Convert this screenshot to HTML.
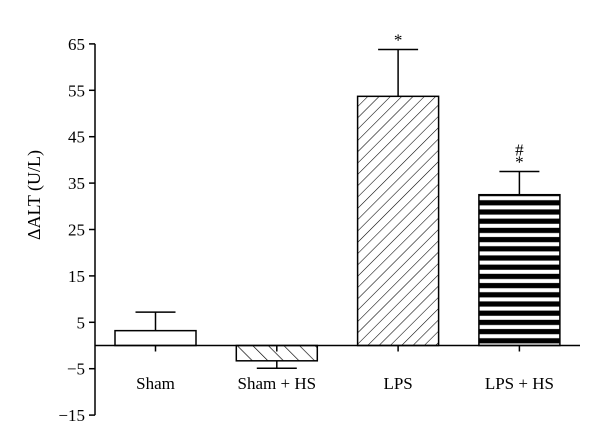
<!DOCTYPE html>
<html><head><meta charset="utf-8"><style>
body{margin:0;background:#fff}
svg{display:block;font-family:"Liberation Serif",serif}
</style></head><body>
<svg width="600" height="448" viewBox="0 0 600 448">
<defs>
<pattern id="pBack" patternUnits="userSpaceOnUse" width="11" height="11" patternTransform="rotate(-45)"><rect width="11" height="11" fill="#fff"/><line x1="0" y1="0" x2="0" y2="11" stroke="#000" stroke-width="1.3"/></pattern>
<pattern id="pFwd" patternUnits="userSpaceOnUse" width="8" height="8" patternTransform="rotate(45)"><rect width="8" height="8" fill="#fff"/><line x1="0" y1="0" x2="0" y2="8" stroke="#000" stroke-width="1.1"/></pattern>
<pattern id="pHoriz" patternUnits="userSpaceOnUse" width="9" height="9.2" y="194"><rect width="9" height="9.2" fill="#000"/><rect y="2.2" width="9" height="4" fill="#fff"/></pattern>
</defs>
<g id="plot"></g>
</svg>
<script>
const categories=["Sham","Sham + HS","LPS","LPS + HS"];
const values=[3.2,-3.3,53.7,32.5];
const errors=[4,1.6,10.1,5];
const annotations=["","","*","#\n*"];
const ticks=[-15,-5,5,15,25,35,45,55,65];
const fills=["#fff","url(#pBack)","url(#pFwd)","url(#pHoriz)"];
const NS="http://www.w3.org/2000/svg";
const g=document.getElementById('plot');
const y=v=>345.5-v*4.64;
const xc=i=>155.5+i*121.3;
const bw=81;
function el(t,a,p){const e=document.createElementNS(NS,t);for(const k in a)e.setAttribute(k,a[k]);(p||g).appendChild(e);return e;}
const ax=el('line',{x1:95,y1:y(65),x2:95,y2:y(-15),stroke:'#000','stroke-width':1.5});


ticks.forEach(t=>{
 const l=el('line',{x1:89,y1:y(t),x2:95,y2:y(t),stroke:'#000','stroke-width':1.5});
 
 
 const tx=el('text',{x:85,y:y(t)+6,'text-anchor':'end','font-size':17});
 tx.textContent=t<0?'\u2212'+Math.abs(t):String(t);
 
 
});
const yt=el('text',{x:0,y:0,'text-anchor':'middle','font-size':18,transform:'translate(40,195) rotate(-90)'});
yt.textContent='\u0394ALT (U/L)';


categories.forEach((c,i)=>{
 const v=values[i],cx=xc(i);
 const top=Math.min(y(v),y(0)),h=Math.abs(y(v)-y(0));
 const ev=v+(v>=0?errors[i]:-errors[i]);
 const e1=el('line',{x1:cx,y1:y(v),x2:cx,y2:y(ev),stroke:'#000','stroke-width':1.5});
 
 
 const e2=el('line',{x1:cx-20,y1:y(ev),x2:cx+20,y2:y(ev),stroke:'#000','stroke-width':1.5});
 
 
 const r=el('rect',{x:cx-bw/2,y:top,width:bw,height:h,fill:fills[i],stroke:'#000','stroke-width':1.5});
 
 
 const tk=el('line',{x1:cx,y1:y(0),x2:cx,y2:y(0)+6,stroke:'#000','stroke-width':1.5});
 
 
 const lb=el('text',{x:cx,y:389,'text-anchor':'middle','font-size':17});
 lb.textContent=c;
 
 
 const lines=annotations[i]?annotations[i].split('\n'):[];
 lines.forEach((s,j)=>{
  const a=el('text',{x:cx,y:y(ev)-4-(lines.length-1-j)*12,'text-anchor':'middle','font-size':17});
  a.textContent=s;
  
  
 });
});
const xa=el('line',{x1:95,y1:y(0),x2:580,y2:y(0),stroke:'#000','stroke-width':1.5});


</script>
</body></html>
